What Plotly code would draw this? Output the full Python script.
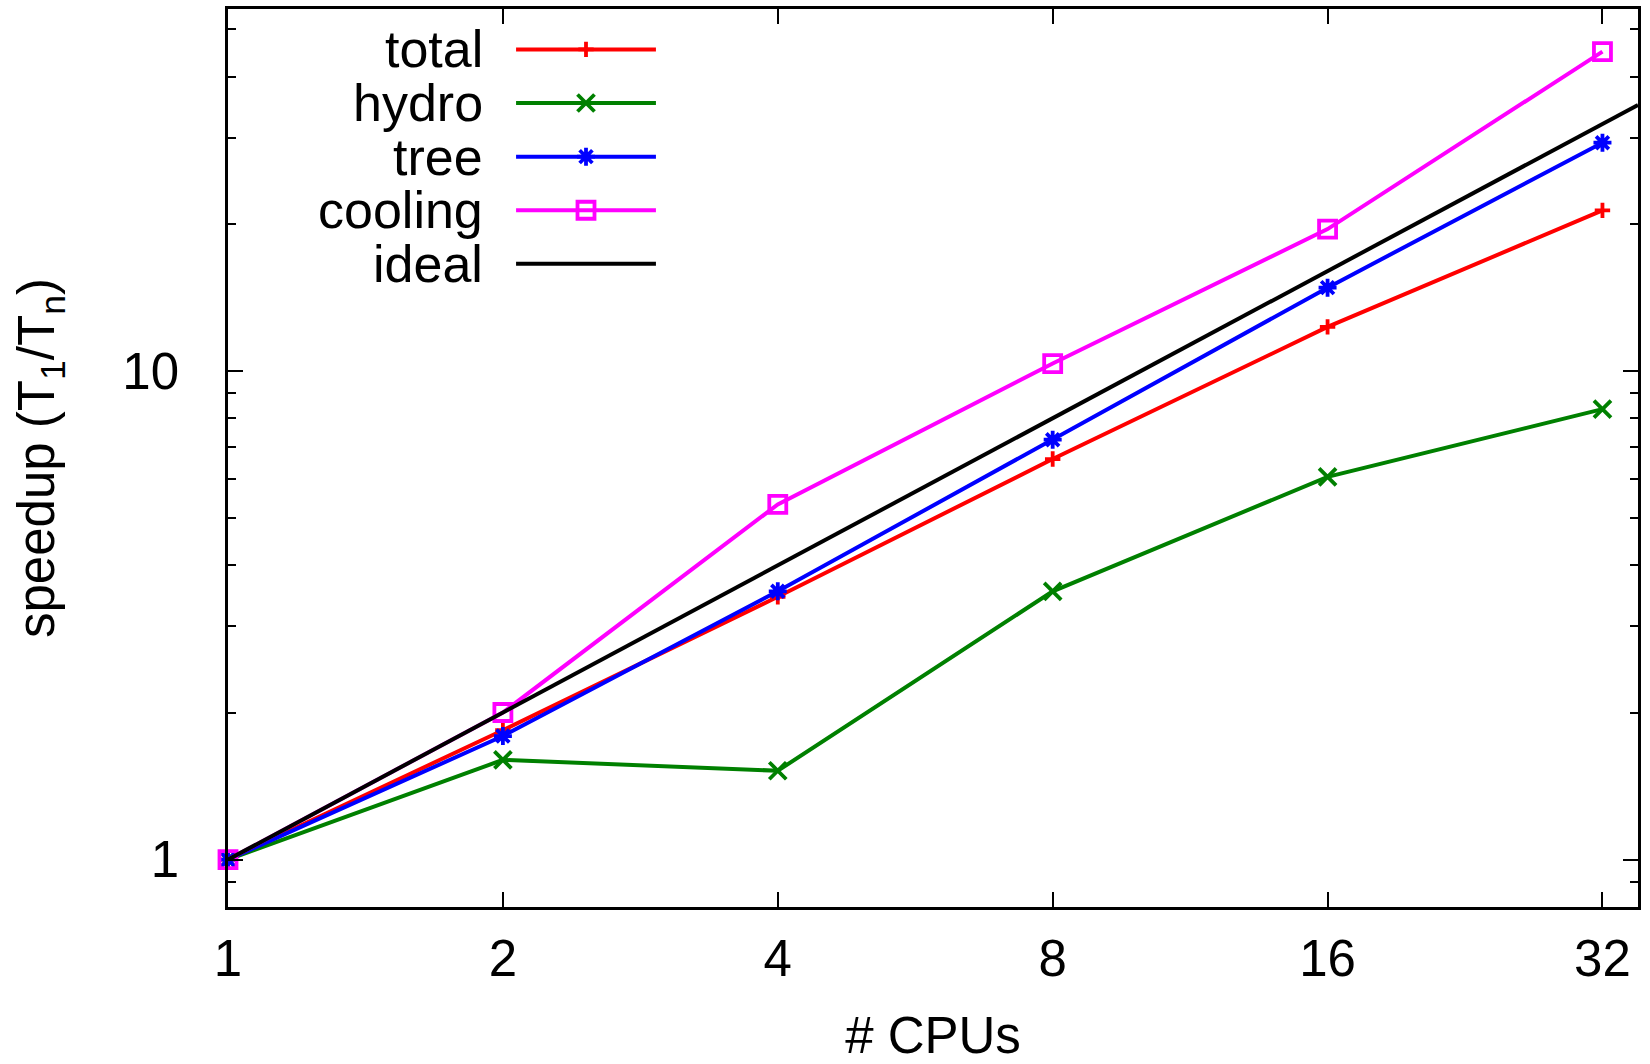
import math
import plotly.graph_objects as go

# ---- data ----
cpus = [1, 2, 4, 8, 16, 32]
total = [1.0, 1.84, 3.45, 6.60, 12.3, 21.3]
hydro = [1.0, 1.60, 1.52, 3.54, 6.07, 8.35]
tree = [1.0, 1.79, 3.54, 7.23, 14.8, 29.3]
cooling = [1.0, 2.0, 5.33, 10.35, 19.5, 45.0]
ideal_cpus = [1, 2, 4, 8, 16, 32, 35]
ideal_speedup = [1, 2, 4, 8, 16, 32, 35]

x_ticks = [1, 2, 4, 8, 16, 32]
y_ticks = [1, 10]
y_minor = [0.9, 2, 3, 4, 5, 6, 7, 8, 9, 20, 30, 40, 50]

series_names = ["total", "hydro", "tree", "cooling", "ideal"]
series_colors = ["#ff0000", "#008000", "#0000ff", "#ff00ff", "#000000"]
series_symbols = ["cross-thin", "x-thin", "asterisk", "square-open", None]
series_sizes = [11, 17, 15, 17, 0]

FONT = "Liberation Sans, Arial, Helvetica, sans-serif"
FS = 51
FS_LEG = 52
LW = 4
MLW = 3.8

fig = go.Figure()
ys = [total, hydro, tree, cooling]
for name, y, col, sym, sz in zip(series_names[:4], ys, series_colors, series_symbols, series_sizes):
    fig.add_trace(go.Scatter(
        x=cpus, y=y, name=name, mode="lines+markers",
        line=dict(color=col, width=LW),
        marker=dict(symbol=sym, size=sz, color=col,
                    line=dict(color=col, width=MLW)),
        showlegend=False, cliponaxis=False,
    ))
fig.add_trace(go.Scatter(
    x=ideal_cpus, y=ideal_speedup, name="ideal", mode="lines",
    line=dict(color="#000000", width=LW), showlegend=False,
))

# ---- manual gnuplot-style legend (text left, sample right) ----
leg_top = 0.955
leg_step = 0.0597
leg_text_x = 0.1815
leg_line_x0, leg_line_x1 = 0.2043, 0.3035
leg_mark_x = (leg_line_x0 + leg_line_x1) / 2
for i, (name, col, sym, sz) in enumerate(zip(series_names, series_colors, series_symbols, series_sizes)):
    yy = leg_top - i * leg_step
    fig.add_annotation(x=leg_text_x, y=yy, xref="paper", yref="paper",
                       text=name, showarrow=False, xanchor="right", yanchor="middle",
                       borderpad=0,
                       font=dict(family=FONT, size=FS_LEG, color="black"))
    fig.add_shape(type="line", xref="paper", yref="paper",
                  x0=leg_line_x0, x1=leg_line_x1, y0=yy, y1=yy,
                  line=dict(color=col, width=LW))
    if sym:
        fig.add_trace(go.Scatter(
            x=[leg_mark_x], y=[yy], xaxis="x2", yaxis="y2", mode="markers",
            marker=dict(symbol=sym, size=sz, color=col, line=dict(color=col, width=MLW)),
            showlegend=False, hoverinfo="skip",
        ))

axis_common = dict(
    showline=True, linecolor="black", linewidth=2.5, mirror="ticks",
    ticks="inside", ticklen=15, tickwidth=2, tickcolor="black",
    showgrid=False, zeroline=False,
    tickfont=dict(family=FONT, size=FS, color="black"),
)

fig.update_layout(
    width=1650, height=1064,
    margin=dict(l=228, r=12, t=9, b=157, autoexpand=False),
    paper_bgcolor="white", plot_bgcolor="white",
    font=dict(family=FONT, size=FS, color="black"),
    showlegend=False,
    xaxis=dict(
        type="log", range=[0, math.log10(35)],
        tickmode="array", tickvals=x_ticks, ticktext=[str(v) for v in x_ticks],
        ticklabelstandoff=5,
        title=dict(text="# CPUs", font=dict(family=FONT, size=FS), standoff=69),
        **axis_common,
    ),
    yaxis=dict(
        type="log", range=[math.log10(0.8), math.log10(55)],
        tickmode="array", tickvals=y_ticks, ticktext=[str(v) for v in y_ticks],
        ticklabelstandoff=36,
        minor=dict(tickmode="array", tickvals=y_minor, ticks="inside",
                   ticklen=8, tickwidth=2, tickcolor="black", showgrid=False),
        title=dict(text="speedup (T<sub>1</sub>/T<sub>n</sub>)",
                   font=dict(family=FONT, size=FS), standoff=52),
        **axis_common,
    ),
    xaxis2=dict(overlaying="x", range=[0, 1], visible=False, fixedrange=True),
    yaxis2=dict(overlaying="y", range=[0, 1], visible=False, fixedrange=True),
)

fig.write_html("out.html")
